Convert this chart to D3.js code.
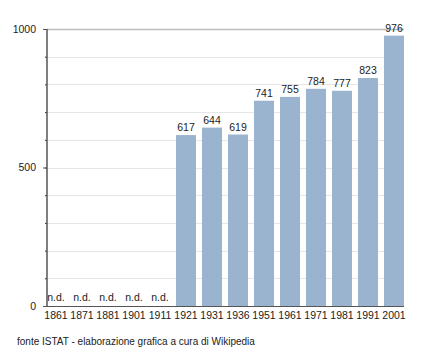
<!DOCTYPE html>
<meta charset="utf-8">
<style>
  body { margin: 0; background: #fff; }
  text { font-family: "Liberation Sans", Arial, sans-serif; fill: #222; }
</style>
<body>
  <script src="https://d3js.org/d3.v7.min.js"></script>
  <script>
    var years = ["1861", "1871", "1881", "1901", "1911", "1921", "1931", "1936", "1951", "1961", "1971", "1981", "1991", "2001"];
    var population = [null, null, null, null, null, 617, 644, 619, 741, 755, 784, 777, 823, 976];
    var yTicks = [0, 500, 1000];
    var source = "fonte ISTAT - elaborazione grafica a cura di Wikipedia";

    var width = 432, height = 354;
    var plotLeft = 46, plotRight = 404, plotTop = 29, plotBottom = 306;

    var svg = d3.select("body").append("svg")
      .attr("width", width)
      .attr("height", height);

    var x = d3.scaleBand()
      .domain(years)
      .range([plotLeft, plotRight])
      .paddingInner(0.23)
      .paddingOuter(0);

    var y = d3.scaleLinear().domain([0, 1000]).range([plotBottom, plotTop]);

    // grid lines every 100
    svg.append("g").selectAll("line")
      .data(d3.range(100, 1001, 100))
      .enter().append("line")
      .attr("x1", plotLeft + 1)
      .attr("x2", plotRight)
      .attr("y1", function(d) { return Math.round(y(d)) + 0.5; })
      .attr("y2", function(d) { return Math.round(y(d)) + 0.5; })
      .style("stroke", function(d) { return d == 1000 ? "#bdbdbd" : "#e6e6e6"; })
      .style("stroke-width", function(d) { return d == 1000 ? 1.5 : 1; });

    // bars
    var data = years.map(function(yr, i) { return { year: yr, value: population[i] }; });

    svg.append("g").selectAll("rect")
      .data(data.filter(function(d) { return d.value != null; }))
      .enter().append("rect")
      .attr("x", function(d) { return x(d.year); })
      .attr("width", x.bandwidth())
      .attr("y", function(d) { return y(d.value); })
      .attr("height", function(d) { return y(0) - y(d.value); })
      .style("fill", "#9ab3ce");

    // value labels
    svg.append("g").selectAll("text")
      .data(data)
      .enter().append("text")
      .attr("x", function(d) { return x(d.year) + x.bandwidth() / 2; })
      .attr("y", function(d) { return d.value == null ? plotBottom - 5 : y(d.value) - 4; })
      .attr("text-anchor", "middle")
      .style("font-size", "10.5px")
      .text(function(d) { return d.value == null ? "n.d." : d.value; });

    // x axis
    var xAxis = svg.append("g")
      .attr("transform", "translate(0," + plotBottom + ")")
      .call(d3.axisBottom(x).tickSize(0).tickPadding(6));
    xAxis.select(".domain").remove();
    xAxis.selectAll("text").style("font-size", "10.5px");

    svg.append("line")
      .attr("x1", plotLeft - 3).attr("x2", plotRight)
      .attr("y1", plotBottom + 0.5).attr("y2", plotBottom + 0.5)
      .style("stroke", "#555").style("stroke-width", 1.2);

    // y axis with minor ticks
    var yAxis = svg.append("g")
      .attr("transform", "translate(" + (plotLeft + 1) + ",0)")
      .call(d3.axisLeft(y).tickValues(d3.range(0, 1001, 100)).tickSize(2).tickFormat(""));
    yAxis.select(".domain").remove();
    yAxis.selectAll("line").style("stroke", "#333");

    var yMajor = svg.append("g")
      .attr("transform", "translate(" + (plotLeft + 1) + ",0)")
      .call(d3.axisLeft(y).tickValues(yTicks).tickSize(4).tickPadding(7).tickFormat(d3.format("d")));
    yMajor.select(".domain").remove();
    yMajor.selectAll("line").style("stroke", "#555");
    yMajor.selectAll("text").style("font-size", "10.5px");

    svg.append("line")
      .attr("x1", plotLeft + 1).attr("x2", plotLeft + 1)
      .attr("y1", plotTop).attr("y2", plotBottom)
      .style("stroke", "#555").style("stroke-width", 1.5);

    svg.append("text")
      .attr("x", 17)
      .attr("y", 345)
      .style("font-size", "10px")
      .text(source);
  </script>
</body>
